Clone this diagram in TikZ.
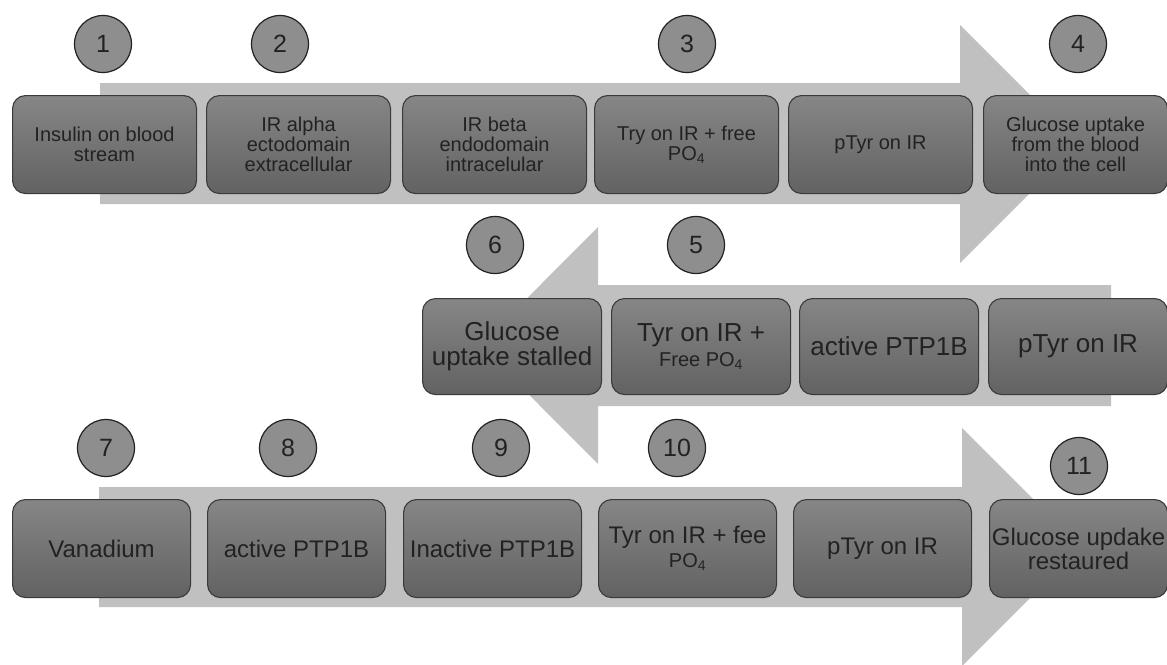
\documentclass[tikz,border=0pt]{standalone}
\usepackage{fontspec}
\setmainfont{Liberation Sans}

\definecolor{arrowgray}{RGB}{192,192,192}
\definecolor{boxtop}{RGB}{134,134,134}
\definecolor{boxbottom}{RGB}{98,98,98}
\definecolor{boxline}{RGB}{58,58,58}
\definecolor{numfill}{RGB}{142,142,142}
\definecolor{inkgray}{RGB}{34,34,34}

\begin{document}
\begin{tikzpicture}[x=1pt, y=-1pt,
    stage/.style={draw=boxline, line width=1.1pt, rounded corners=13pt,
        top color=boxtop, bottom color=boxbottom, text=inkgray,
        anchor=north west, align=center, inner sep=2pt},
    stepnum/.style={circle, draw=inkgray, line width=1.2pt, fill=numfill,
        minimum size=57pt, inner sep=0pt, text=inkgray,
        font=\fontsize{25}{25}\selectfont}]

    % Cornice della figura
    \useasboundingbox (0,0) rectangle (1167,664);
    \clip (0,0) rectangle (1167,664);

    % Frecce grandi (corpo + punta)
    \fill[arrowgray] (100,83) -- (960,83) -- (960,25) -- (1079,144)
        -- (960,263) -- (960,204) -- (100,204) -- cycle;
    \fill[arrowgray] (1111,285) -- (598,285) -- (598,227) -- (480,345.5)
        -- (598,464) -- (598,406) -- (1111,406) -- cycle;
    \fill[arrowgray] (99,487) -- (962,487) -- (962,428) -- (1081,547)
        -- (962,666) -- (962,607) -- (99,607) -- cycle;

    % Riga 1: segnale dell'insulina
    \foreach \x/\txt [count=\k] in {
        12/{Insulin on blood\\stream},
        206/{IR alpha\\ectodomain\\extracellular},
        402/{IR beta\\endodomain\\intracelular},
        594/{Try on IR + free\\PO\textsubscript{4}},
        788/{pTyr on IR},
        983/{Glucose uptake\\from the blood\\into the cell}} {
        \node[stage, minimum width=184pt, minimum height=98pt,
            font=\fontsize{20}{20}\selectfont] (top\k) at (\x,95) {\txt};
    }

    % Riga 2: PTP1B attiva (verso sinistra)
    \foreach \x/\txt [count=\k] in {
        422/{Glucose\\uptake stalled},
        611/{Tyr on IR +\\{\fontsize{20}{20}\selectfont Free PO\textsubscript{4}}},
        799/{active PTP1B},
        988/{pTyr on IR}} {
        \node[stage, minimum width=179pt, minimum height=96pt,
            font=\fontsize{26}{25}\selectfont] (mid\k) at (\x,298) {\txt};
    }

    % Riga 3: effetto del vanadio
    \foreach \x/\txt [count=\k] in {
        12/{Vanadium},
        207/{active PTP1B},
        403/{Inactive PTP1B},
        598/{Tyr on IR + fee\\{\fontsize{20}{20}\selectfont PO\textsubscript{4}}},
        793/{pTyr on IR},
        989/{Glucose updake\\restaured}} {
        \node[stage, minimum width=178pt, minimum height=98pt,
            font=\fontsize{24}{24}\selectfont] (low\k) at (\x,499) {\txt};
    }

    % Numeri dei passaggi
    \foreach \n/\x/\y in {1/103/44, 2/280/44, 3/687/44, 4/1078/44,
        5/696/245, 6/495/245, 7/106/448, 8/288/448, 9/501/448,
        10/677/448, 11/1079/466} {
        \node[stepnum] (n\n) at (\x,\y) {\n};
    }

\end{tikzpicture}
\end{document}
